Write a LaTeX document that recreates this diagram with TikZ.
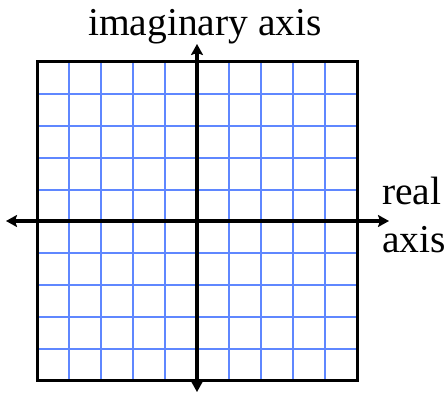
\documentclass[tikz,border=0pt]{standalone}
\usepackage{fontspec}
\setmainfont{Liberation Serif}
\usetikzlibrary{arrows.meta}
\definecolor{gridblue}{RGB}{95,135,255}
\begin{document}
\begin{tikzpicture}[x=1pt,y=-1pt,
  gridline/.style={draw=gridblue,line width=1.8pt},
  frame/.style={draw=black,line width=3pt},
  axisline/.style={draw=black,line width=4.5pt,{Stealth[length=11pt,width=12pt,inset=2pt]}-{Stealth[length=11pt,width=12pt,inset=2pt]}},
  lab/.style={font=\fontsize{39.5}{39.5}\selectfont,inner sep=0pt}]
\useasboundingbox (0,0) rectangle (448,393);
\foreach \k in {1,2,3,4,6,7,8,9}{
  \draw[gridline] (37+32*\k,62) -- (37+32*\k,381);
}
\foreach \y in {94,126,158,190,253,285,317,349}{
  \draw[gridline] (37,\y) -- (357,\y);
}
\draw[frame] (37,62) rectangle (357,381);
\coordinate (top) at (197,44);
\coordinate (bottom) at (197,392);
\coordinate (left) at (6,221);
\coordinate (right) at (389,221);
\draw[axisline] (bottom) -- (top);
\draw[axisline] (left) -- (right);
\node[lab,anchor=base] (im) at (205,36) {imaginary axis};
\node[lab,anchor=base west] (re) at (382,205) {real};
\node[lab,anchor=base west] (ax) at (382,253) {axis};
\end{tikzpicture}
\end{document}
